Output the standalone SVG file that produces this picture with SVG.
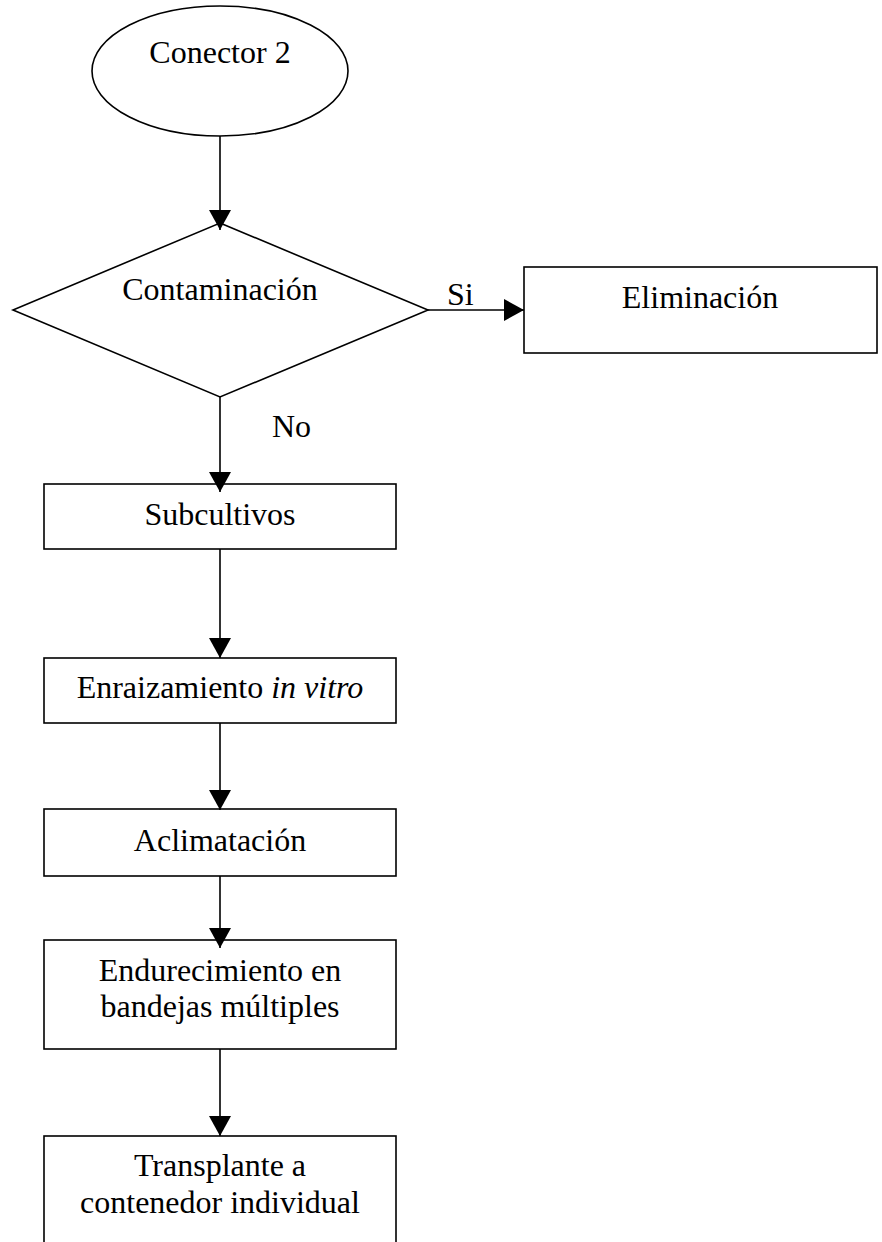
<svg xmlns="http://www.w3.org/2000/svg" width="882" height="1242" viewBox="0 0 882 1242">
<style>
.shape{fill:#fff;stroke:#000;stroke-width:1.6}
.edge{fill:none;stroke:#000;stroke-width:1.6}
text{font-family:"Liberation Serif","Times New Roman",serif;font-size:32px;fill:#000;text-anchor:middle}
.lbl{text-anchor:start}
</style>
<defs>
<marker id="arr" markerUnits="userSpaceOnUse" markerWidth="22" markerHeight="22" viewBox="0 0 20 22" refX="20" refY="11" orient="auto">
<path d="M0,0 L20,11 L0,22 Z" fill="#000"/>
</marker>
</defs>
<rect width="882" height="1242" fill="#fff"/>
<g id="conector2">
<ellipse class="shape" cx="220" cy="71" rx="128" ry="65"/>
<text x="220" y="63">Conector 2</text>
</g>
<g id="contaminacion">
<polygon class="shape" points="220,223 428,310 220,397 13,310"/>
<text x="220" y="300">Contaminación</text>
</g>
<g id="eliminacion">
<rect class="shape" x="524" y="267" width="353" height="86"/>
<text x="700" y="308">Eliminación</text>
</g>
<g id="subcultivos">
<rect class="shape" x="44" y="484" width="352" height="65"/>
<text x="220" y="525">Subcultivos</text>
</g>
<g id="enraizamiento">
<rect class="shape" x="44" y="658" width="352" height="65"/>
<text x="220" y="698">Enraizamiento <tspan font-style="italic">in vitro</tspan></text>
</g>
<g id="aclimatacion">
<rect class="shape" x="44" y="809" width="352" height="67"/>
<text x="220" y="851">Aclimatación</text>
</g>
<g id="endurecimiento">
<rect class="shape" x="44" y="940" width="352" height="109"/>
<text x="220" y="981">Endurecimiento en</text>
<text x="220" y="1017">bandejas múltiples</text>
</g>
<g id="transplante">
<rect class="shape" x="44" y="1136" width="352" height="130"/>
<text x="220" y="1176">Transplante a</text>
<text x="220" y="1213">contenedor individual</text>
</g>
<g id="connectors">
<line class="edge" x1="220" y1="136" x2="220" y2="230" marker-end="url(#arr)"/>
<line class="edge" x1="428" y1="310" x2="524" y2="310" marker-end="url(#arr)"/>
<line class="edge" x1="220" y1="397" x2="220" y2="492" marker-end="url(#arr)"/>
<line class="edge" x1="220" y1="549" x2="220" y2="658" marker-end="url(#arr)"/>
<line class="edge" x1="220" y1="723" x2="220" y2="810" marker-end="url(#arr)"/>
<line class="edge" x1="220" y1="876" x2="220" y2="948" marker-end="url(#arr)"/>
<line class="edge" x1="220" y1="1049" x2="220" y2="1136" marker-end="url(#arr)"/>
<text class="lbl" x="447" y="305">Si</text>
<text class="lbl" x="272" y="437">No</text>
</g>
</svg>
